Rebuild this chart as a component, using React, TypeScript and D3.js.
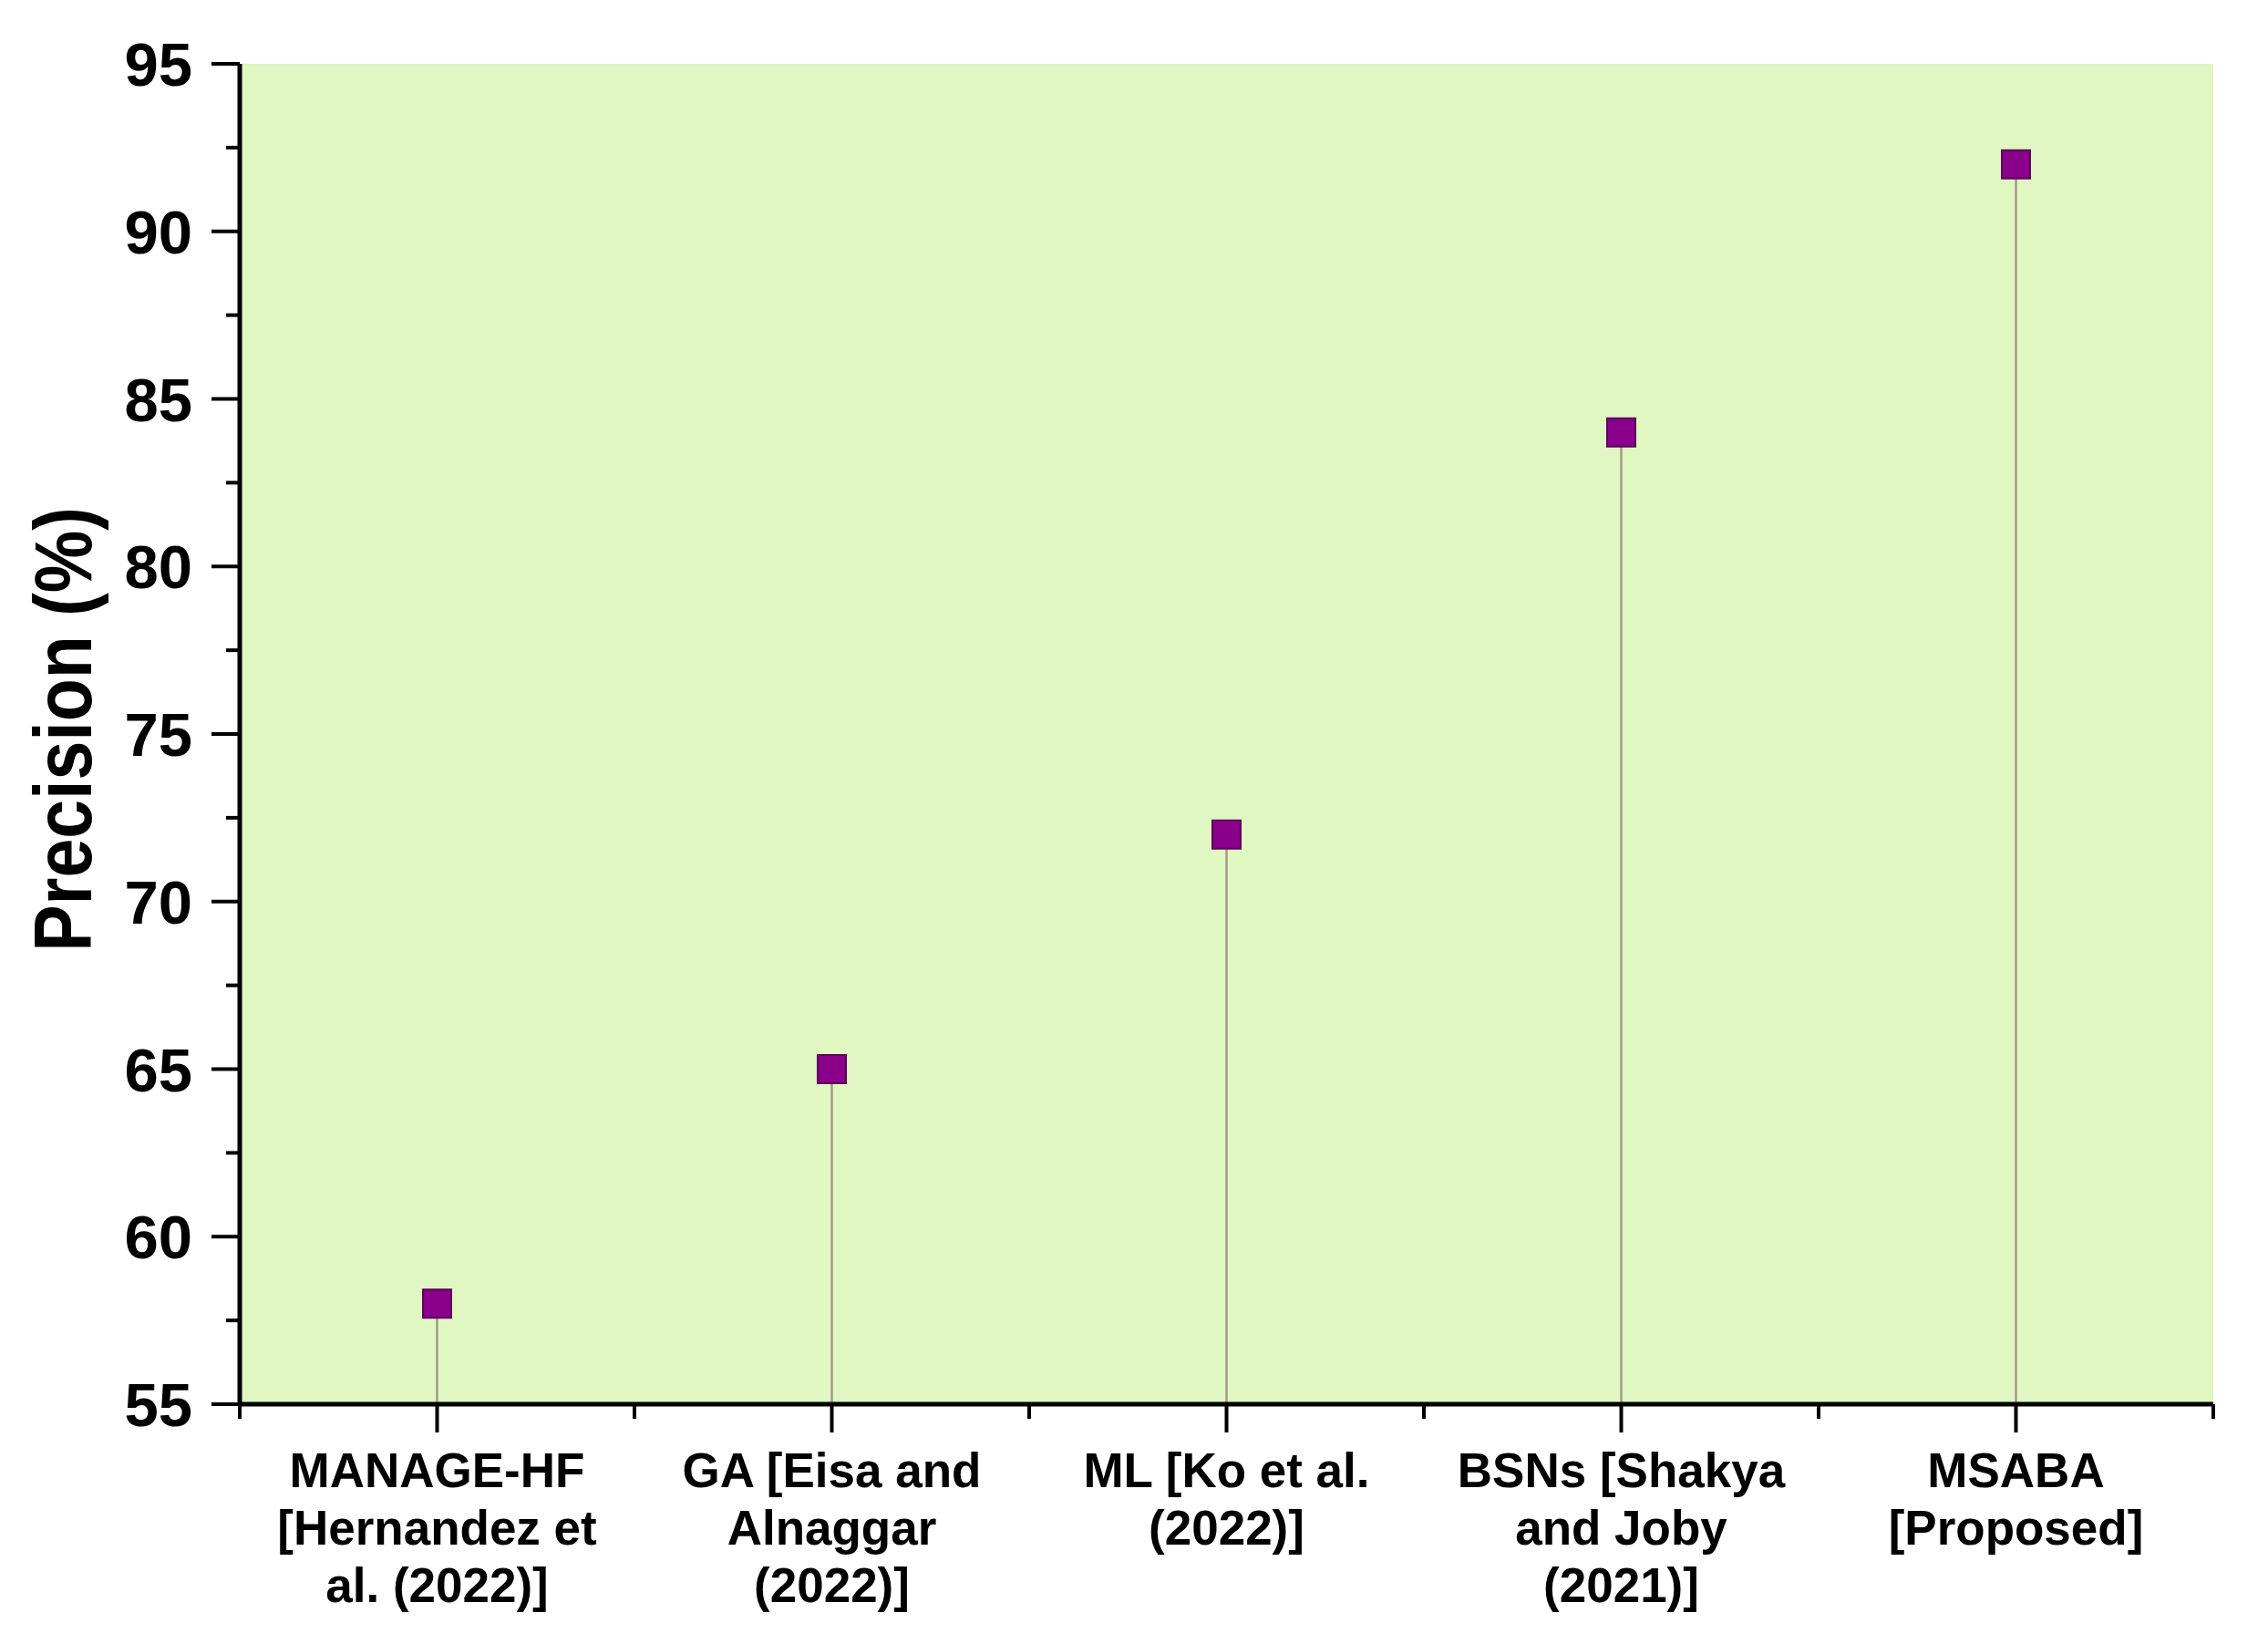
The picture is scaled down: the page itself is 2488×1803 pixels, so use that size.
import React, { useEffect, useRef } from "react";
import * as d3 from "d3";

const categories: string[][] = [
  ["MANAGE-HF", "[Hernandez et", "al. (2022)]"],
  ["GA [Eisa and", "Alnaggar", "(2022)]"],
  ["ML [Ko et al.", "(2022)]"],
  ["BSNs [Shakya", "and Joby", "(2021)]"],
  ["MSABA", "[Proposed]"],
];
const precision: number[] = [58, 65, 72, 84, 92];
const yMajorTicks: number[] = [55, 60, 65, 70, 75, 80, 85, 90, 95];
const yMinorTicks: number[] = [57.5, 62.5, 67.5, 72.5, 77.5, 82.5, 87.5, 92.5];
const yLabel = "Precision (%)";

const W = 2488;
const H = 1803;
const M = { left: 263, right: 2428, top: 70, bottom: 1540 };
const FONT = "'Liberation Sans', Arial, sans-serif";

export default function App() {
  const ref = useRef<SVGSVGElement>(null);

  useEffect(() => {
    const svg = d3.select(ref.current);
    svg.selectAll("*").remove();

    const ids = categories.map((_, i) => String(i));
    const x = d3.scaleBand<string>().domain(ids).range([M.left, M.right]).padding(0);
    const y = d3.scaleLinear().domain([55, 95]).range([M.bottom, M.top]);
    const cx = (i: number) => (x(String(i)) as number) + x.bandwidth() / 2;

    svg.append("rect")
      .attr("x", M.left).attr("y", M.top)
      .attr("width", M.right - M.left).attr("height", M.bottom - M.top)
      .attr("fill", "#e0f7c1");

    // stems
    svg.append("g").selectAll("line").data(precision).join("line")
      .attr("x1", (_, i) => cx(i)).attr("x2", (_, i) => cx(i))
      .attr("y1", y(55)).attr("y2", (d) => y(d))
      .attr("stroke", "#a39a82").attr("stroke-width", 2.5);

    // markers
    const s = 31;
    svg.append("g").selectAll("rect").data(precision).join("rect")
      .attr("x", (_, i) => cx(i) - s / 2).attr("y", (d) => y(d) - s / 2)
      .attr("width", s).attr("height", s)
      .attr("fill", "#8a008a").attr("stroke", "#5c005c").attr("stroke-width", 2);

    const axisCol = "#000";
    const ga = svg.append("g");
    ga.selectAll("line.ymaj").data(yMajorTicks).join("line")
      .attr("x1", M.left - 31).attr("x2", M.left)
      .attr("y1", (d) => y(d)).attr("y2", (d) => y(d))
      .attr("stroke", axisCol).attr("stroke-width", 4);
    ga.selectAll("line.ymin").data(yMinorTicks).join("line")
      .attr("x1", M.left - 15).attr("x2", M.left)
      .attr("y1", (d) => y(d)).attr("y2", (d) => y(d))
      .attr("stroke", axisCol).attr("stroke-width", 4);
    ga.selectAll("text.ylab").data(yMajorTicks).join("text")
      .attr("x", M.left - 52).attr("y", (d) => y(d))
      .attr("dy", "0.36em")
      .attr("text-anchor", "end")
      .attr("font-family", FONT).attr("font-weight", "bold").attr("font-size", 67)
      .attr("fill", "#000")
      .text((d) => String(d));

    const xMinor = d3.range(categories.length + 1).map((i) => M.left + i * x.bandwidth());
    ga.selectAll("line.xmin").data(xMinor).join("line")
      .attr("x1", (d) => d).attr("x2", (d) => d)
      .attr("y1", M.bottom).attr("y2", M.bottom + 16)
      .attr("stroke", axisCol).attr("stroke-width", 4);
    ga.selectAll("line.xmaj").data(categories).join("line")
      .attr("x1", (_, i) => cx(i)).attr("x2", (_, i) => cx(i))
      .attr("y1", M.bottom).attr("y2", M.bottom + 31)
      .attr("stroke", axisCol).attr("stroke-width", 4);

    ga.append("line").attr("x1", M.left).attr("x2", M.left)
      .attr("y1", M.top).attr("y2", M.bottom + 2)
      .attr("stroke", axisCol).attr("stroke-width", 5);
    ga.append("line").attr("x1", M.left - 2).attr("x2", M.right)
      .attr("y1", M.bottom).attr("y2", M.bottom)
      .attr("stroke", axisCol).attr("stroke-width", 5);

    const lab = svg.append("g");
    categories.forEach((lines, i) => {
      const t = lab.append("text")
        .attr("text-anchor", "middle")
        .attr("font-family", FONT).attr("font-weight", "bold").attr("font-size", 53)
        .attr("fill", "#000");
      lines.forEach((ln, j) => {
        t.append("tspan").attr("x", cx(i)).attr("y", 1631 + j * 63).text(ln);
      });
    });

    svg.append("text")
      .attr("transform", `translate(100, ${(M.top + M.bottom) / 2 - 5}) rotate(-90) scale(1,1.15)`)
      .attr("text-anchor", "middle")
      .attr("font-family", FONT).attr("font-weight", "bold").attr("font-size", 77)
      .attr("fill", "#000")
      .text(yLabel);
  }, []);

  return (
    <svg
      ref={ref}
      width={W}
      height={H}
      style={{ position: "absolute", left: 0, top: 0, background: "#fff", display: "block" }}
    />
  );
}
